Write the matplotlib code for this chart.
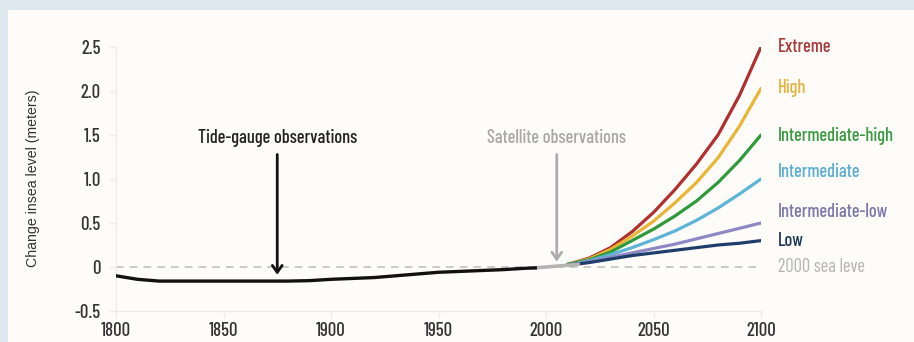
import matplotlib
matplotlib.use("Agg")
import matplotlib.pyplot as plt
from matplotlib.patches import Rectangle

NARROW = ["Barlow Condensed", "Roboto Condensed", "DejaVu Sans"]

# observed sea level (tide gauges), meters relative to 2000
obs_years = [1800, 1810, 1820, 1840, 1860, 1880, 1890, 1900, 1910, 1920, 1930, 1940, 1950, 1960, 1970, 1980, 1990, 1995]
obs_level = [-0.10, -0.14, -0.16, -0.16, -0.16, -0.16, -0.155, -0.14, -0.13, -0.12, -0.10, -0.08, -0.06, -0.05, -0.04, -0.03, -0.015, -0.01]

# satellite era
sat_years = [1995, 2000, 2005, 2010, 2015]
sat_level = [-0.01, 0.0, 0.01, 0.02, 0.03]

# scenario projections
proj_years = [2010, 2020, 2030, 2040, 2050, 2060, 2070, 2080, 2090, 2100]
scen_names = ["Extreme", "High", "Intermediate-high", "Intermediate", "Intermediate-low", "Low"]
extreme = [0.03, 0.10, 0.22, 0.40, 0.62, 0.88, 1.17, 1.50, 1.95, 2.50]
high = [0.03, 0.09, 0.20, 0.35, 0.52, 0.73, 0.96, 1.24, 1.60, 2.03]
int_high = [0.03, 0.08, 0.17, 0.30, 0.43, 0.58, 0.75, 0.96, 1.21, 1.50]
intermediate = [0.02, 0.07, 0.14, 0.22, 0.31, 0.41, 0.53, 0.67, 0.83, 1.00]
int_low = [0.02, 0.06, 0.11, 0.16, 0.21, 0.26, 0.32, 0.38, 0.44, 0.50]
low = [0.02, 0.05, 0.09, 0.13, 0.16, 0.19, 0.22, 0.25, 0.27, 0.30]
scen_values = [extreme, high, int_high, intermediate, int_low, low]
label_y = [2.5, 2.03, 1.49, 1.08, 0.63, 0.30]

line_colors = ["#b02f2f", "#e9b534", "#2f9a3c", "#5db4d6", "#8e88c4", "#1f3d6b"]
text_colors = ["#a83a3a", "#e2b23e", "#3a9a42", "#5aaed2", "#7b78a8", "#1e3658"]

fig = plt.figure(figsize=(9.14, 3.42), dpi=100)
fig.patch.set_facecolor("#dde9ee")
fig.patches.append(Rectangle((8 / 914, 0), 1, 1 - 10 / 342, transform=fig.transFigure,
                             facecolor="#fdfcf9", edgecolor="none", zorder=-10))

ax = fig.add_axes([116 / 914, 1 - 311 / 342, 645 / 914, 264 / 342])
ax.set_facecolor("none")
ax.set_zorder(2)

ax.axhline(0, color="#bdbdbd", lw=1.1, ls=(0, (5, 4)), zorder=1)

for vals, c in zip(scen_values, line_colors):
    ax.plot(proj_years, vals, color=c, lw=2.3, solid_capstyle="round", zorder=3)
ax.plot(sat_years, sat_level, color="#b4b4b4", lw=2.6, zorder=4)
ax.plot(obs_years, obs_level, color="#111111", lw=2.4, zorder=4)

for name, y, c in zip(scen_names, label_y, text_colors):
    ax.annotate(name, (2100, y), xytext=(12, 0), textcoords="offset points",
                va="center", ha="left", color=c, fontsize=13.3, family=NARROW,
                fontweight="medium", annotation_clip=False)
ax.annotate("2000 sea leve", (2100, 0), xytext=(12, 0), textcoords="offset points",
            va="center", ha="left", color="#b3b3b3", fontsize=13.3, family=NARROW,
            annotation_clip=False)

# arrows
ax.annotate("", xy=(1875, -0.12), xytext=(1875, 1.31),
            arrowprops=dict(arrowstyle="->,head_length=0.5,head_width=0.35", color="#111111", lw=2))
ax.text(1875, 1.47, "Tide-gauge observations", ha="center", va="center",
        fontsize=13.3, family=NARROW, fontweight="medium", color="#222222")
ax.annotate("", xy=(2005, 0.03), xytext=(2005, 1.31),
            arrowprops=dict(arrowstyle="->,head_length=0.5,head_width=0.35", color="#adadad", lw=2))
ax.text(2005, 1.47, "Satellite observations", ha="center", va="center",
        fontsize=13.3, family=NARROW, fontweight="medium", color="#a8a8a8")

ax.set_xlim(1800, 2100)
ax.set_ylim(-0.5, 2.5)
ax.set_xticks([1800, 1850, 1900, 1950, 2000, 2050, 2100])
ax.set_yticks([-0.5, 0, 0.5, 1.0, 1.5, 2.0, 2.5])
ax.set_yticklabels(["-0.5", "0", "0.5", "1.0", "1.5", "2.0", "2.5"])
for lab in ax.get_xticklabels() + ax.get_yticklabels():
    lab.set_family(NARROW)
    lab.set_fontsize(13.5)
    lab.set_fontweight("medium")
    lab.set_color("#333333")
ax.tick_params(axis="both", color="#f1ebe5", length=5, width=1)
ax.tick_params(axis="x", pad=3)
ax.tick_params(axis="y", pad=6)

for side in ["top", "right"]:
    ax.spines[side].set_visible(False)
for side in ["left", "bottom"]:
    ax.spines[side].set_color("#f1ebe5")
    ax.spines[side].set_linewidth(1)

fig.text(33 / 914, 1 - 178 / 342, "Change insea level (meters)", rotation=90,
         ha="center", va="center", fontsize=10.2, color="#333333", family="Liberation Sans")

fig.savefig("out.png", dpi=100, facecolor=fig.get_facecolor())
